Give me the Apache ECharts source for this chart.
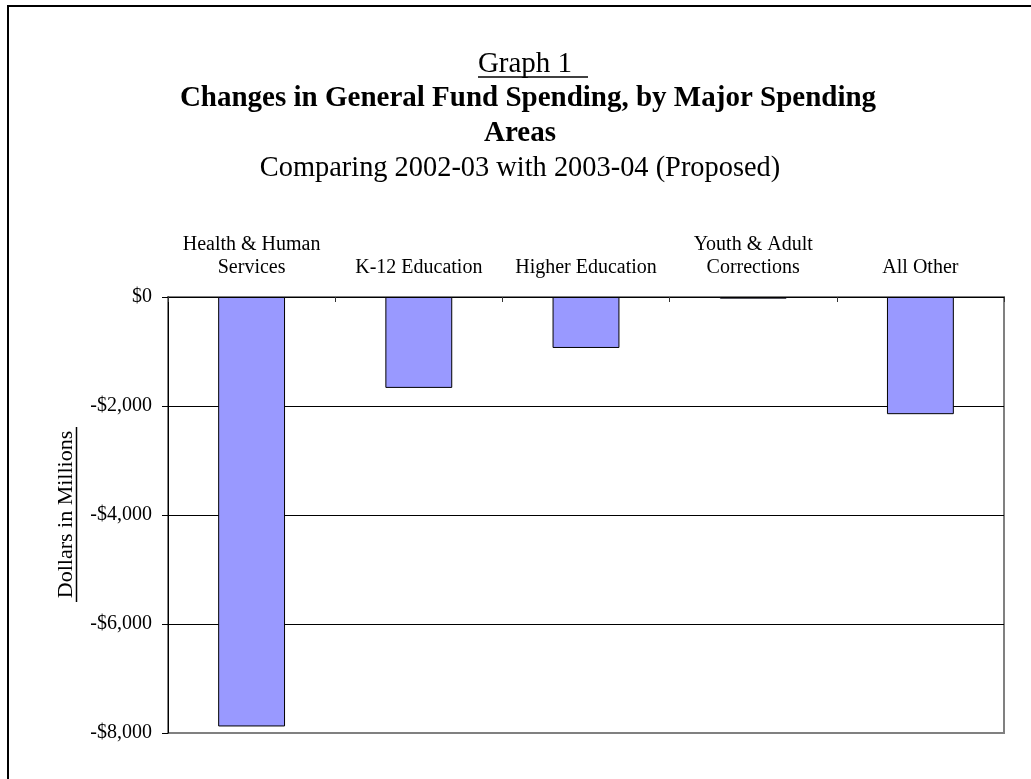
<!DOCTYPE html>
<html>
<head>
<meta charset="utf-8">
<script src="https://cdn.jsdelivr.net/npm/echarts@6/dist/echarts.min.js"></script>
<style>
  html, body { margin: 0; padding: 0; background: #fff; }
  #chart { width: 1031px; height: 779px; }
</style>
</head>
<body>
<div id="chart"></div>
<script>
const categories = ['Health & Human\nServices', 'K-12 Education', 'Higher Education', 'Youth & Adult\nCorrections', 'All Other'];
const changeValues = [-7880, -1668, -935, -30, -2150];
const yTicks = [-8000, -6000, -4000, -2000, 0];
const titleLine0 = 'Graph 1';
const titleLine1 = 'Changes in General Fund Spending, by Major Spending';
const titleLine2 = 'Areas';
const subtitle = 'Comparing 2002-03 with 2003-04 (Proposed)';
const yAxisTitle = 'Dollars in Millions';

const FONT = '"Liberation Serif", "Times New Roman", serif';

function fmt(v) {
  const s = Math.abs(v).toLocaleString('en-US');
  return (v < 0 ? '-$' : '$') + s;
}

const chart = echarts.init(document.getElementById('chart'), null, { renderer: 'canvas' });
chart.setOption({
  animation: false,
  backgroundColor: '#ffffff',
  grid: {
    left: 168, right: 27, top: 297, bottom: 46,
    show: true, borderColor: '#808080', borderWidth: 2, backgroundColor: 'transparent'
  },
  xAxis: {
    type: 'category',
    position: 'top',
    data: categories,
    axisLine: { show: true, onZero: false, lineStyle: { color: '#000', width: 1 } },
    axisTick: { show: true, inside: true, length: 5, lineStyle: { color: '#333' } },
    axisLabel: {
      interval: 0, margin: 18,
      fontFamily: FONT, fontSize: 20, lineHeight: 23, color: '#000'
    },
    splitLine: { show: false }
  },
  yAxis: {
    type: 'value',
    min: yTicks[0], max: yTicks[yTicks.length - 1], interval: 2000,
    axisLine: { show: true, lineStyle: { color: '#000', width: 1 } },
    axisTick: { show: true, inside: false, length: 6, lineStyle: { color: '#000' } },
    axisLabel: {
      margin: 16, fontFamily: FONT, fontSize: 20, color: '#000',
      formatter: fmt
    },
    splitLine: { show: true, lineStyle: { color: ['#808080', '#000', '#000', '#000', '#000'], width: 1 } }
  },
  series: [{
    type: 'bar',
    data: changeValues,
    barWidth: '40%',
    itemStyle: { color: '#9999FF', borderColor: '#000', borderWidth: 1 }
  }],
  graphic: [
    { type: 'rect', x: 0, y: 0, z: 100, silent: true,
      shape: { x: 8, y: 6, width: 1100, height: 1000 },
      style: { fill: 'none', stroke: '#000', lineWidth: 2 } },
    { type: 'text', x: 525, y: 64, z: 100,
      style: { text: titleLine0, font: '29px ' + FONT, fill: '#000', align: 'center', verticalAlign: 'middle' } },
    { type: 'line', z: 100, shape: { x1: 478, y1: 77, x2: 588, y2: 77 }, style: { stroke: '#000', lineWidth: 1.5 } },
    { type: 'text', x: 528, y: 99, z: 100,
      style: { text: titleLine1, font: 'bold 29px ' + FONT, fill: '#000', align: 'center', verticalAlign: 'middle' } },
    { type: 'text', x: 520, y: 134, z: 100,
      style: { text: titleLine2, font: 'bold 29px ' + FONT, fill: '#000', align: 'center', verticalAlign: 'middle' } },
    { type: 'text', x: 520, y: 169, z: 100,
      style: { text: subtitle, font: '28.4px ' + FONT, fill: '#000', align: 'center', verticalAlign: 'middle' } },
    { type: 'text', x: 66, y: 514.5, rotation: Math.PI / 2, z: 100,
      style: { text: yAxisTitle, font: '22px ' + FONT, fill: '#000', align: 'center', verticalAlign: 'middle' } },
    { type: 'line', z: 100, shape: { x1: 76.5, y1: 427, x2: 76.5, y2: 602 }, style: { stroke: '#000', lineWidth: 1.5 } }
  ]
});
</script>
</body>
</html>
